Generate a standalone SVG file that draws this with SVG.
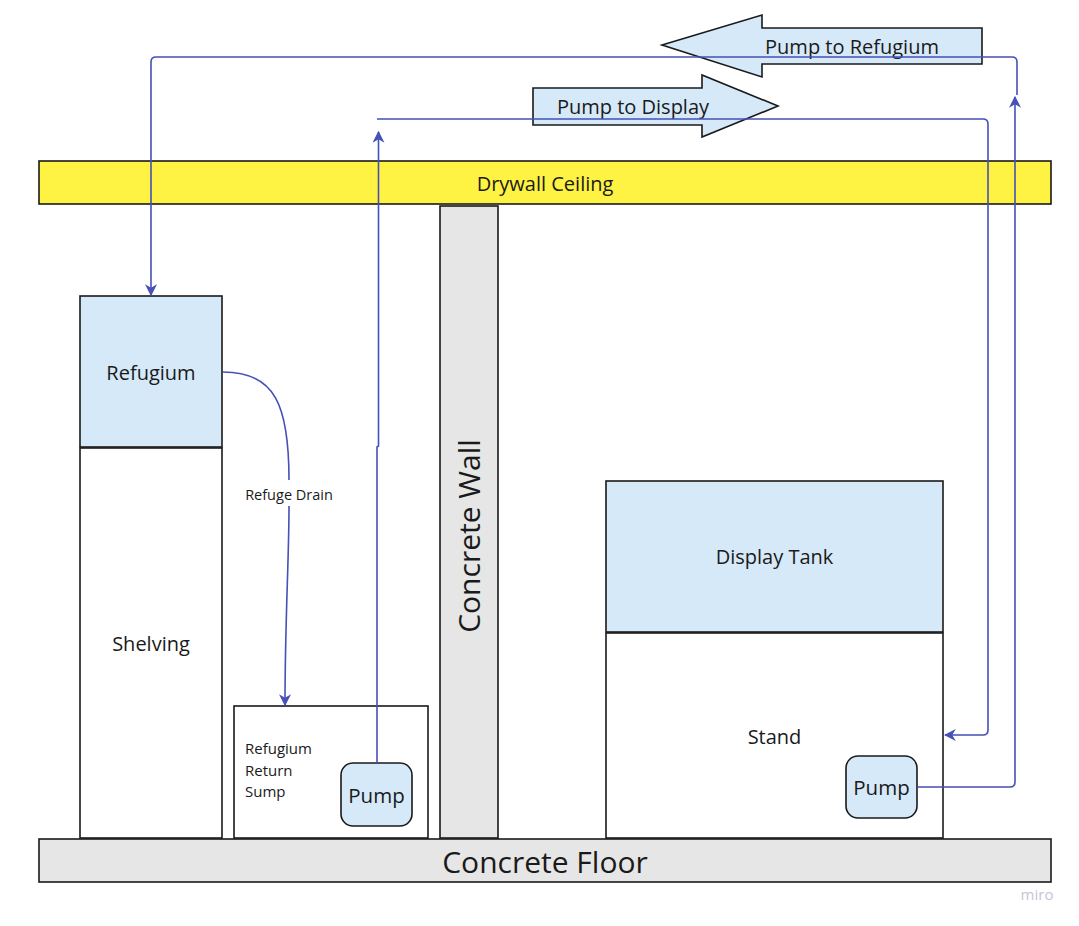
<svg xmlns="http://www.w3.org/2000/svg" width="1079" height="926" viewBox="0 0 1079 926">
<defs>
<style>
.t{font-family:"Open Sans","Noto Sans","Liberation Sans",sans-serif;fill:#1a1a1a}
.box{stroke:#1a1a1a;stroke-width:1.6}
.blue{fill:#d5e9f9}
.white{fill:#ffffff}
.gray{fill:#e6e6e6}
.conn{fill:none;stroke:#4550b8;stroke-width:1.6}
</style>
<marker id="ah" viewBox="0 0 10 10" refX="9" refY="5" markerWidth="12" markerHeight="12" markerUnits="userSpaceOnUse" orient="auto">
<path d="M0,0 L10,5 L0,10 L3,5 Z" fill="#4550b8"/>
</marker>
</defs>
<rect width="1079" height="926" fill="#ffffff"/>

<g id="ceiling">
<rect x="39" y="161" width="1012" height="43" fill="#fef242" class="box"/>
<text class="t" x="545" y="191" font-size="20" text-anchor="middle">Drywall Ceiling</text>
</g>
<g id="floor">
<rect x="39" y="839" width="1012" height="43" class="box gray"/>
<text class="t" x="545" y="873" font-size="30" text-anchor="middle">Concrete Floor</text>
</g>
<g id="wall">
<rect x="440" y="206" width="58" height="632" class="box gray"/>
<text class="t" transform="translate(480,536) rotate(-90)" font-size="30" text-anchor="middle">Concrete Wall</text>
</g>
<g id="refugium">
<rect x="80" y="296" width="142" height="151" class="box blue"/>
<text class="t" x="151" y="380" font-size="20" text-anchor="middle">Refugium</text>
</g>
<g id="shelving">
<rect x="80" y="448" width="142" height="390" class="box white"/>
<text class="t" x="151" y="651" font-size="20" text-anchor="middle">Shelving</text>
</g>
<g id="sump">
<rect x="234" y="706" width="194" height="132" class="box white"/>
<text class="t" x="245" y="754" font-size="15">Refugium</text>
<text class="t" x="245" y="776" font-size="15">Return</text>
<text class="t" x="245" y="797" font-size="15">Sump</text>
</g>
<g id="sump-pump">
<rect x="341" y="763" width="71" height="63" rx="12" class="box blue"/>
<text class="t" x="376.5" y="803" font-size="20.5" text-anchor="middle">Pump</text>
</g>
<g id="display-tank">
<rect x="606" y="481" width="337" height="151" class="box blue"/>
<text class="t" x="774.5" y="564" font-size="20" text-anchor="middle">Display Tank</text>
</g>
<g id="stand">
<rect x="606" y="633" width="337" height="205" class="box white"/>
<text class="t" x="774.5" y="744" font-size="20" text-anchor="middle">Stand</text>
</g>
<g id="stand-pump">
<rect x="846" y="756" width="71" height="62" rx="12" class="box blue"/>
<text class="t" x="881.5" y="795" font-size="20.5" text-anchor="middle">Pump</text>
</g>

<g id="arrow-refugium">
<polygon points="662,45 762,15 762,28 982,28 982,64 762,64 762,77" class="box blue"/>
<text class="t" x="852" y="54" font-size="20" text-anchor="middle">Pump to Refugium</text>
</g>
<g id="arrow-display">
<polygon points="533,88 702,88 702,75 778,106 702,137 702,125 533,125" class="box blue"/>
<text class="t" x="633" y="114" font-size="20" text-anchor="middle">Pump to Display</text>
</g>

<g id="connectors">
<path class="conn" d="M918,787 H1010 Q1015,787 1015,782 V97" marker-end="url(#ah)"/>
<path class="conn" d="M1017,95 V62 Q1017,57 1012,57 H156 Q151,57 151,62 V295" marker-end="url(#ah)"/>
<path class="conn" d="M377,763 V447 L378.5,446 V132" marker-end="url(#ah)"/>
<path class="conn" d="M377,119 H983 Q988,119 988,124 V730 Q988,735 983,735 H945" marker-end="url(#ah)"/>
<path class="conn" d="M223,372 C275,372 289,405 289,480 M289,506 C289,560 285,620 285,705" marker-end="url(#ah)"/>
<text class="t" x="289" y="500" font-size="14.5" text-anchor="middle" fill="#333333">Refuge Drain</text>
</g>

<text x="1037" y="900" font-family="'Open Sans','Liberation Sans',sans-serif" font-size="15" fill="#c5c5d8" text-anchor="middle">miro</text>
</svg>
